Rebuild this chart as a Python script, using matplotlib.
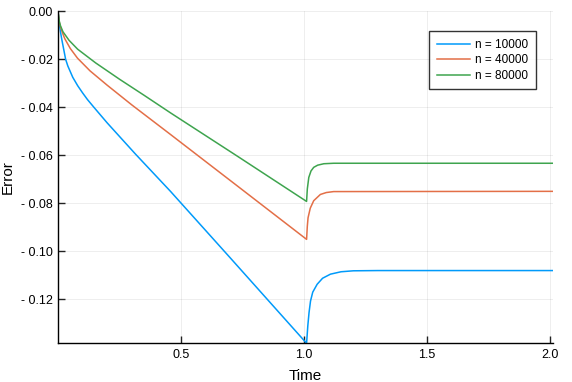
import matplotlib
matplotlib.use("Agg")
import matplotlib.pyplot as plt

plt.rcParams['font.family'] = ['Liberation Sans', 'DejaVu Sans']

# Data
t_blue = [0.0, 0.005, 0.01, 0.015, 0.031, 0.04, 0.06, 0.08, 0.1, 0.12, 0.146, 0.2, 0.315, 0.457, 0.698, 1.01,
          1.015, 1.02, 1.026, 1.035, 1.053, 1.075, 1.107, 1.15, 1.2, 1.3, 2.01]
e_blue = [0.0, -0.005, -0.0085, -0.0115, -0.02, -0.0228, -0.0275, -0.031, -0.034, -0.0368, -0.04, -0.0465,
          -0.0595, -0.075, -0.1025, -0.1383,
          -0.131, -0.1255, -0.1207, -0.117, -0.1137, -0.1112, -0.1095, -0.1085, -0.1081, -0.108, -0.108]

t_orange = [0.0, 0.005, 0.01, 0.02, 0.028, 0.05, 0.079, 0.13, 0.2, 0.3, 0.457, 0.728, 1.01,
            1.013, 1.016, 1.025, 1.039, 1.066, 1.09, 1.12, 2.01]
e_orange = [0.0, -0.0045, -0.0065, -0.0095, -0.0115, -0.0155, -0.0195, -0.0248, -0.0308, -0.039, -0.0513,
            -0.0727, -0.095,
            -0.0895, -0.086, -0.082, -0.0789, -0.0763, -0.0755, -0.0751, -0.075]

t_green = [0.0, 0.005, 0.01, 0.02, 0.045, 0.08, 0.153, 0.25, 0.35, 0.457, 0.728, 1.01,
           1.013, 1.019, 1.028, 1.039, 1.055, 1.08, 1.12, 2.01]
e_green = [0.0, -0.004, -0.006, -0.0085, -0.0121, -0.0158, -0.0215, -0.0283, -0.035, -0.0423, -0.0603, -0.0792,
           -0.074, -0.0692, -0.0665, -0.065, -0.0641, -0.0635, -0.0633, -0.0633]

labels = ["n = 10000", "n = 40000", "n = 80000"]
colors = ["#009AFA", "#E36F47", "#3EA44E"]

xticks = [0.5, 1.0, 1.5, 2.0]
xticklabels = ["0.5", "1.0", "1.5", "2.0"]
yticks = [0.0, -0.02, -0.04, -0.06, -0.08, -0.10, -0.12]
yticklabels = ["0.00", "- 0.02", "- 0.04", "- 0.06", "- 0.08", "- 0.10", "- 0.12"]

W, H = 572, 382
fig = plt.figure(figsize=(W / 100, H / 100), dpi=100)
left, right, top, bottom = 58, 552.7, 11.3, 343.3
ax = fig.add_axes([left / W, 1 - bottom / H, (right - left) / W, (bottom - top) / H])

for t, e, lab, c in zip([t_blue, t_orange, t_green], [e_blue, e_orange, e_green], labels, colors):
    ax.plot(t, e, color=c, lw=1.1, label=lab)

ax.set_xlim(0, 2.01)
ax.set_ylim(min(e_blue), 0)
ax.set_xticks(xticks)
ax.set_xticklabels(xticklabels)
ax.set_yticks(yticks)
ax.set_yticklabels(yticklabels)
ax.tick_params(direction='in', length=5, width=1, colors='#222222', labelsize=9, pad=4)
for lab in ax.get_xticklabels() + ax.get_yticklabels():
    lab.set_color('black')
ax.grid(True, color='#000000', alpha=0.08, lw=0.6)
for s in ['top', 'right']:
    ax.spines[s].set_visible(False)
for s in ['left', 'bottom']:
    ax.spines[s].set_linewidth(1.0)
    ax.spines[s].set_color('black')

ax.set_xlabel("Time", fontsize=11, labelpad=6)
ax.set_ylabel("Error", fontsize=11, labelpad=4)

leg = ax.legend(loc='upper right', bbox_to_anchor=(536 / W, 1 - 31 / H), bbox_transform=fig.transFigure,
                borderaxespad=0, fontsize=8.5, frameon=True, fancybox=False, handlelength=2.8,
                handletextpad=0.45, labelspacing=0.3, borderpad=0.65)
leg.get_frame().set_edgecolor('black')
leg.get_frame().set_linewidth(1.0)

fig.savefig("out.png", dpi=100)
